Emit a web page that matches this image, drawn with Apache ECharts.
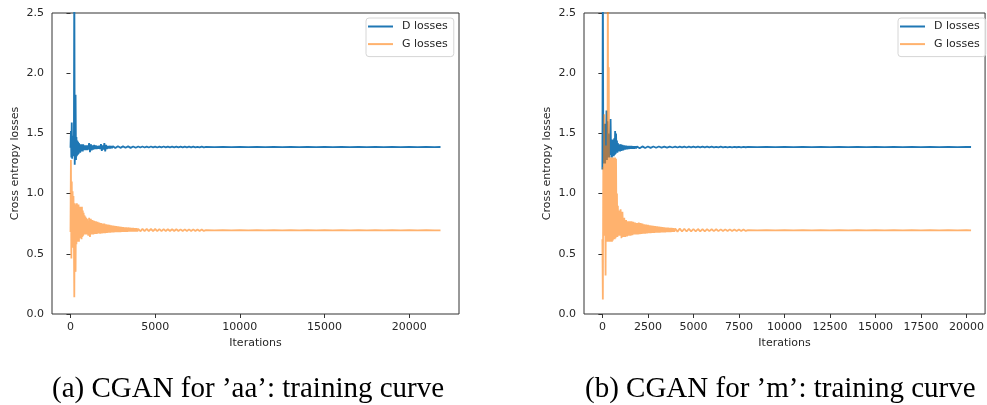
<!DOCTYPE html>
<html>
<head>
<meta charset="utf-8">
<title>CGAN training curves</title>
<script src="https://cdn.jsdelivr.net/npm/echarts@6/dist/echarts.min.js"></script>
<style>
  html, body { margin: 0; padding: 0; background: #fff; }
  #chart { width: 987px; height: 405px; }
</style>
</head>
<body>
<div id="chart"></div>
<script>
// iterations for plot (a), 'aa'
var aaIter = [0,25,50,75,100,125,150,175,200,225,250,275,300,325,350,375,400,425,450,475,
  500,525,550,575,600,625,650,675,700,725,750,775,800,825,850,875,900,925,950,975,
  1000,1050,1100,1150,1200,1250,1300,1350,1400,1450,1500,1550,1600,1650,1700,1750,1800,1850,1900,1950,
  2000,2050,2100,2150,2200,2250,2300,2350,2400,2450,2500,2550,2600,2650,2700,2750,2800,2850,2900,2950,
  3000,3050,3100,3150,3200,3250,3300,3350,3400,3450,3500,3550,3600,3650,3700,3750,3800,3850,3900,3950,
  4000,4125,4250,4375,4500,4625,4750,4875,5000,5125,5250,5375,5500,5625,5750,5875,
  6000,6125,6250,6375,6500,6625,6750,6875,7000,7125,7250,7375,7500,7625,7750,7875,
  8000,8500,9000,9500,10000,10500,11000,11500,12000,12500,13000,13500,14000,14500,
  15000,15500,16000,16500,17000,17500,18000,18500,19000,19500,20000,20500,21000,21500,
  21850];
var aaD = [1.38,1.52,1.30,1.59,1.29,1.48,1.33,1.45,1.31,2.9,1.24,1.46,1.82,1.28,1.47,1.31,1.44,1.32,1.43,1.33,
  1.42,1.34,1.41,1.34,1.41,1.35,1.41,1.35,1.40,1.35,1.41,1.36,1.40,1.36,1.40,1.36,1.40,1.36,1.40,1.36,
  1.40,1.365,1.42,1.345,1.41,1.36,1.40,1.365,1.405,1.37,1.40,1.37,1.395,1.372,1.398,1.37,1.41,1.355,1.40,1.365,
  1.42,1.35,1.405,1.37,1.395,1.375,1.396,1.376,1.395,1.377,1.394,1.378,1.394,1.378,1.393,1.379,1.393,1.379,1.393,1.380,
  1.393,1.380,1.392,1.380,1.392,1.381,1.392,1.381,1.392,1.381,1.393,1.380,1.392,1.381,1.391,1.381,1.392,1.381,1.391,1.382,
  1.391,1.383,1.391,1.383,1.390,1.383,1.391,1.384,1.390,1.383,1.390,1.384,1.391,1.384,1.390,1.384,
  1.390,1.384,1.390,1.384,1.390,1.384,1.390,1.384,1.390,1.384,1.390,1.384,1.389,1.384,1.390,1.384,
  1.388,1.386,1.388,1.386,1.388,1.386,1.388,1.386,1.388,1.386,1.388,1.386,1.388,1.386,
  1.388,1.386,1.388,1.386,1.388,1.386,1.388,1.386,1.388,1.386,1.388,1.386,1.388,1.386,
  1.387];
var aaG = [0.68,1.28,0.46,1.10,0.62,1.02,0.55,0.98,0.65,0.14,0.92,0.48,0.35,0.91,0.58,0.92,0.60,0.90,0.62,0.91,
  0.60,0.88,0.63,0.89,0.64,0.88,0.62,0.89,0.64,0.86,0.65,0.84,0.66,0.82,0.66,0.81,0.67,0.80,0.66,0.79,
  0.80,0.65,0.80,0.64,0.79,0.66,0.78,0.66,0.775,0.665,0.77,0.665,0.765,0.67,0.76,0.668,0.755,0.67,0.752,0.672,
  0.75,0.672,0.745,0.674,0.742,0.675,0.74,0.676,0.737,0.677,0.735,0.678,0.732,0.679,0.73,0.68,0.728,0.68,0.726,0.681,
  0.724,0.682,0.722,0.682,0.72,0.683,0.719,0.683,0.718,0.684,0.716,0.684,0.715,0.685,0.714,0.685,0.713,0.686,0.712,0.686,
  0.708,0.687,0.707,0.688,0.707,0.688,0.706,0.688,0.706,0.689,0.705,0.689,0.705,0.689,0.704,0.689,
  0.704,0.689,0.704,0.690,0.703,0.690,0.703,0.690,0.703,0.690,0.703,0.690,0.702,0.690,0.702,0.690,
  0.697,0.694,0.697,0.694,0.697,0.694,0.697,0.694,0.697,0.694,0.697,0.694,0.697,0.694,
  0.696,0.694,0.696,0.694,0.696,0.694,0.696,0.694,0.696,0.694,0.696,0.694,0.696,0.694,
  0.695];

// iterations for plot (b), 'm'
var mIter = [0,25,50,75,100,125,150,175,200,225,250,275,300,325,350,375,400,425,450,475,
  500,525,550,575,600,625,650,675,700,725,750,775,800,825,850,875,900,925,950,975,
  1000,1050,1100,1150,1200,1250,1300,1350,1400,1450,1500,1550,1600,1650,1700,1750,1800,1850,1900,1950,
  2000,2050,2100,2150,2200,2250,2300,2350,2400,2450,2500,2550,2600,2650,2700,2750,2800,2850,2900,2950,
  3000,3050,3100,3150,3200,3250,3300,3350,3400,3450,3500,3550,3600,3650,3700,3750,3800,3850,3900,3950,
  4000,4125,4250,4375,4500,4625,4750,4875,5000,5125,5250,5375,5500,5625,5750,5875,
  6000,6125,6250,6375,6500,6625,6750,6875,7000,7125,7250,7375,7500,7625,7750,7875,
  8000,8500,9000,9500,10000,10500,11000,11500,12000,12500,13000,13500,14000,
  14500,15000,15500,16000,16500,17000,17500,18000,18500,19000,19500,20000,
  20250];
var mD = [1.20,2.9,1.25,1.57,1.27,1.58,1.25,1.55,1.30,1.69,1.28,1.60,1.30,1.50,1.33,1.45,1.30,1.47,1.62,1.32,
  1.45,1.30,1.44,1.33,1.45,1.31,1.46,1.32,1.52,1.33,1.50,1.34,1.44,1.34,1.42,1.35,1.41,1.35,1.41,1.35,
  1.41,1.355,1.405,1.36,1.40,1.365,1.398,1.368,1.396,1.37,1.395,1.372,1.394,1.373,1.393,1.374,1.393,1.375,1.392,1.376,
  1.393,1.377,1.392,1.378,1.392,1.378,1.392,1.379,1.391,1.379,1.391,1.380,1.391,1.380,1.391,1.380,1.391,1.381,1.391,1.381,
  1.390,1.381,1.391,1.381,1.390,1.382,1.390,1.382,1.390,1.382,1.390,1.382,1.390,1.382,1.390,1.383,1.390,1.383,1.390,1.383,
  1.390,1.383,1.390,1.384,1.390,1.383,1.390,1.384,1.390,1.384,1.390,1.384,1.390,1.384,1.390,1.384,
  1.390,1.384,1.389,1.384,1.390,1.384,1.389,1.384,1.389,1.384,1.389,1.385,1.389,1.384,1.389,1.385,
  1.388,1.386,1.388,1.386,1.388,1.386,1.388,1.386,1.388,1.386,1.388,1.386,1.388,
  1.386,1.388,1.386,1.388,1.386,1.388,1.386,1.388,1.386,1.388,1.386,1.388,
  1.387];
var mG = [0.62,0.12,1.22,0.70,1.66,0.65,1.25,0.32,1.40,0.62,1.20,0.60,2.9,0.65,2.05,0.60,1.30,0.62,1.28,0.60,
  1.30,0.60,1.30,0.61,1.29,0.62,1.30,0.62,1.30,0.63,1.29,0.64,1.00,0.64,0.90,0.65,0.86,0.66,0.85,0.65,
  0.87,0.63,0.85,0.64,0.80,0.64,0.78,0.645,0.77,0.65,0.77,0.65,0.77,0.655,0.765,0.66,0.76,0.66,0.755,0.66,
  0.76,0.663,0.755,0.665,0.75,0.667,0.745,0.668,0.742,0.67,0.74,0.671,0.737,0.672,0.735,0.673,0.733,0.674,0.73,0.675,
  0.728,0.676,0.726,0.677,0.724,0.678,0.722,0.678,0.72,0.679,0.718,0.68,0.716,0.68,0.715,0.681,0.714,0.682,0.712,0.682,
  0.710,0.684,0.709,0.685,0.708,0.685,0.707,0.686,0.706,0.686,0.706,0.687,0.705,0.687,0.705,0.688,
  0.704,0.688,0.704,0.688,0.703,0.689,0.703,0.689,0.703,0.689,0.702,0.689,0.702,0.690,0.702,0.690,
  0.697,0.694,0.697,0.694,0.697,0.694,0.697,0.694,0.697,0.694,0.697,0.694,0.697,
  0.694,0.696,0.694,0.696,0.694,0.696,0.694,0.696,0.694,0.696,0.694,0.696,
  0.695];

var aaTicks = [0, 5000, 10000, 15000, 20000];
var mTicks = [0, 2500, 5000, 7500, 10000, 12500, 15000, 17500, 20000];
var yTicks = [0, 0.5, 1.0, 1.5, 2.0, 2.5];
var seriesNames = ["D losses", "G losses"];
var captions = ["(a) CGAN for \u2019aa\u2019: training curve", "(b) CGAN for \u2019m\u2019: training curve"];

function pairs(xs, ys) {
  return xs.map(function(x, i) { return [x, ys[i]]; });
}

var font = "DejaVu Sans";
var textColor = "#262626";
var blue = "#1f77b4";
var orange = "#ff7f0e";

function xAxisOpt(idx, min, max, ticks) {
  return {
    type: "value",
    gridIndex: idx,
    min: min,
    max: max,
    name: "Iterations",
    nameLocation: "middle",
    nameGap: 24,
    nameTextStyle: { color: textColor, fontFamily: font, fontSize: 11 },
    axisLine: { show: false },
    splitLine: { show: false },
    axisTick: { show: true, length: 4, customValues: ticks, lineStyle: { color: "#333" } },
    axisLabel: {
      customValues: ticks,
      margin: 8,
      color: textColor,
      fontFamily: font,
      fontSize: 11,
      formatter: function(v) { return String(v); }
    }
  };
}

function yAxisOpt(idx) {
  return {
    type: "value",
    gridIndex: idx,
    min: 0,
    max: 2.5,
    name: "Cross entropy losses",
    nameLocation: "middle",
    nameGap: 31,
    nameRotate: 90,
    nameTextStyle: { color: textColor, fontFamily: font, fontSize: 11 },
    axisLine: { show: false },
    splitLine: { show: false },
    axisTick: { show: true, length: 4, customValues: yTicks, lineStyle: { color: "#333" } },
    axisLabel: {
      customValues: yTicks,
      margin: 8,
      color: textColor,
      fontFamily: font,
      fontSize: 11,
      formatter: function(v) { return v.toFixed(1); }
    }
  };
}

function legendOpt(left) {
  return {
    orient: "vertical",
    left: left,
    top: 18,
    padding: [2, 6, 6, 2],
    itemGap: 4.6,
    itemWidth: 25,
    itemHeight: 2,
    icon: "rect",
    borderColor: "#d6d6d6",
    borderWidth: 1,
    borderRadius: 3,
    backgroundColor: "rgba(255,255,255,0.8)",
    textStyle: { color: textColor, fontFamily: font, fontSize: 11, lineHeight: 13, padding: [0, 0, 0, 4] },
    data: seriesNames
  };
}

function lineSeries(name, data, idx, color, op) {
  return {
    name: name,
    type: "line",
    xAxisIndex: idx,
    yAxisIndex: idx,
    data: data,
    showSymbol: false,
    symbol: "none",
    clip: true,
    animation: false,
    color: color,
    itemStyle: { color: color, opacity: op },
    lineStyle: { color: color, width: 1.8, opacity: op }
  };
}

var chart = echarts.init(document.getElementById("chart"), null, { renderer: "canvas" });
chart.setOption({
  animation: false,
  backgroundColor: "#fff",
  grid: [
    { left: 52, top: 13, width: 407, height: 301, show: true, borderColor: "#333", borderWidth: 1, backgroundColor: "transparent" },
    { left: 584, top: 13, width: 402, height: 301, show: true, borderColor: "#333", borderWidth: 1, backgroundColor: "transparent" }
  ],
  xAxis: [
    xAxisOpt(0, -1092, 22942, aaTicks),
    xAxisOpt(1, -1010, 21020, mTicks)
  ],
  yAxis: [yAxisOpt(0), yAxisOpt(1)],
  legend: [legendOpt(366), legendOpt(898)],
  series: [
    lineSeries(seriesNames[0], pairs(aaIter, aaD), 0, blue, 1),
    lineSeries(seriesNames[1], pairs(aaIter, aaG), 0, orange, 0.6),
    lineSeries(seriesNames[0], pairs(mIter, mD), 1, blue, 1),
    lineSeries(seriesNames[1], pairs(mIter, mG), 1, orange, 0.6)
  ],
  graphic: [
    {
      type: "text", left: 52, top: 375,
      style: { text: captions[0], font: "29px 'Liberation Serif'", fill: "#000" }
    },
    {
      type: "text", left: 585, top: 375,
      style: { text: captions[1], font: "29px 'Liberation Serif'", fill: "#000" }
    }
  ]
});
</script>
</body>
</html>
